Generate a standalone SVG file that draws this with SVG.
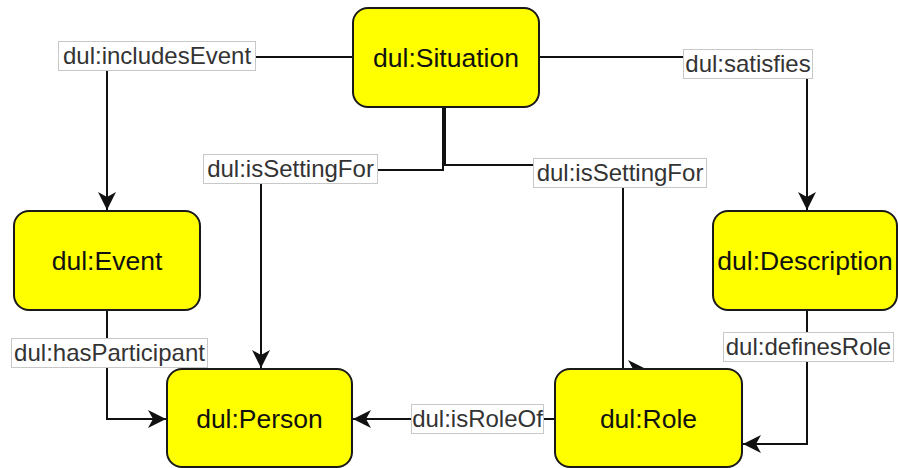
<svg xmlns="http://www.w3.org/2000/svg" width="898" height="468" viewBox="0 0 898 468">
  <style>
    .node rect { fill: #ffff00; stroke: #1a1a1a; stroke-width: 2; }
    .node text { font-family: "Liberation Sans", Arial, sans-serif; font-size: 26.5px; fill: #111; text-anchor: middle; }
    .edge { fill: none; stroke: #111; stroke-width: 2; }
    .lbl rect { fill: #ffffff; stroke: #c8c8c8; stroke-width: 1; }
    .lbl text { font-family: "Liberation Sans", Arial, sans-serif; font-size: 24px; fill: #333; text-anchor: middle; }
  </style>
  <defs>
    <marker id="arrow" markerUnits="userSpaceOnUse" markerWidth="20" markerHeight="20" refX="18" refY="9" orient="auto" viewBox="0 0 20 20">
      <path d="M0,0 L18,9 L0,18 L5,9 Z" fill="#111"/>
    </marker>
  </defs>
  <rect width="898" height="468" fill="#ffffff"/>

  <g id="connectors">
    <path class="edge" d="M352,57 H107 V210" marker-end="url(#arrow)"/>
    <path class="edge" d="M539,57 H807 V210" marker-end="url(#arrow)"/>
    <path class="edge" d="M443,107 V170 H261 V368" marker-end="url(#arrow)"/>
    <path class="edge" d="M445,107 V165 H623 V369 H646" marker-end="url(#arrow)"/>
    <path class="edge" d="M107,310 V419 H166" marker-end="url(#arrow)"/>
    <path class="edge" d="M555,419 H353" marker-end="url(#arrow)"/>
    <path class="edge" d="M807,310 V444 H743" marker-end="url(#arrow)"/>

    <g class="lbl"><rect x="58.5" y="41.5" width="197" height="29"/><text x="157" y="64">dul:includesEvent</text></g>
    <g class="lbl"><rect x="683.5" y="49.5" width="129" height="29"/><text x="748" y="72">dul:satisfies</text></g>
    <g class="lbl"><rect x="203.5" y="154.5" width="174" height="29"/><text x="290.5" y="177">dul:isSettingFor</text></g>
    <g class="lbl"><rect x="533.5" y="158.5" width="173" height="29"/><text x="620" y="181">dul:isSettingFor</text></g>
    <g class="lbl"><rect x="11.5" y="338.5" width="196" height="29"/><text x="109.5" y="361">dul:hasParticipant</text></g>
    <g class="lbl"><rect x="411.5" y="404.5" width="132" height="29"/><text x="477.5" y="427">dul:isRoleOf</text></g>
    <g class="lbl"><rect x="723.5" y="332.5" width="170" height="29"/><text x="808.5" y="355">dul:definesRole</text></g>
  </g>

  <g id="situation" class="node">
    <rect x="353" y="8" width="186" height="99" rx="15"/>
    <text x="446" y="67">dul:Situation</text>
  </g>
  <g id="event" class="node">
    <rect x="14" y="211" width="186" height="99" rx="15"/>
    <text x="107" y="270">dul:Event</text>
  </g>
  <g id="description" class="node">
    <rect x="713" y="211" width="184" height="99" rx="15"/>
    <text x="805" y="270">dul:Description</text>
  </g>
  <g id="person" class="node">
    <rect x="167" y="369" width="185" height="98" rx="15"/>
    <text x="259.5" y="428">dul:Person</text>
  </g>
  <g id="role" class="node">
    <rect x="555" y="369" width="187" height="98" rx="15"/>
    <text x="648.5" y="428">dul:Role</text>
  </g>
</svg>
